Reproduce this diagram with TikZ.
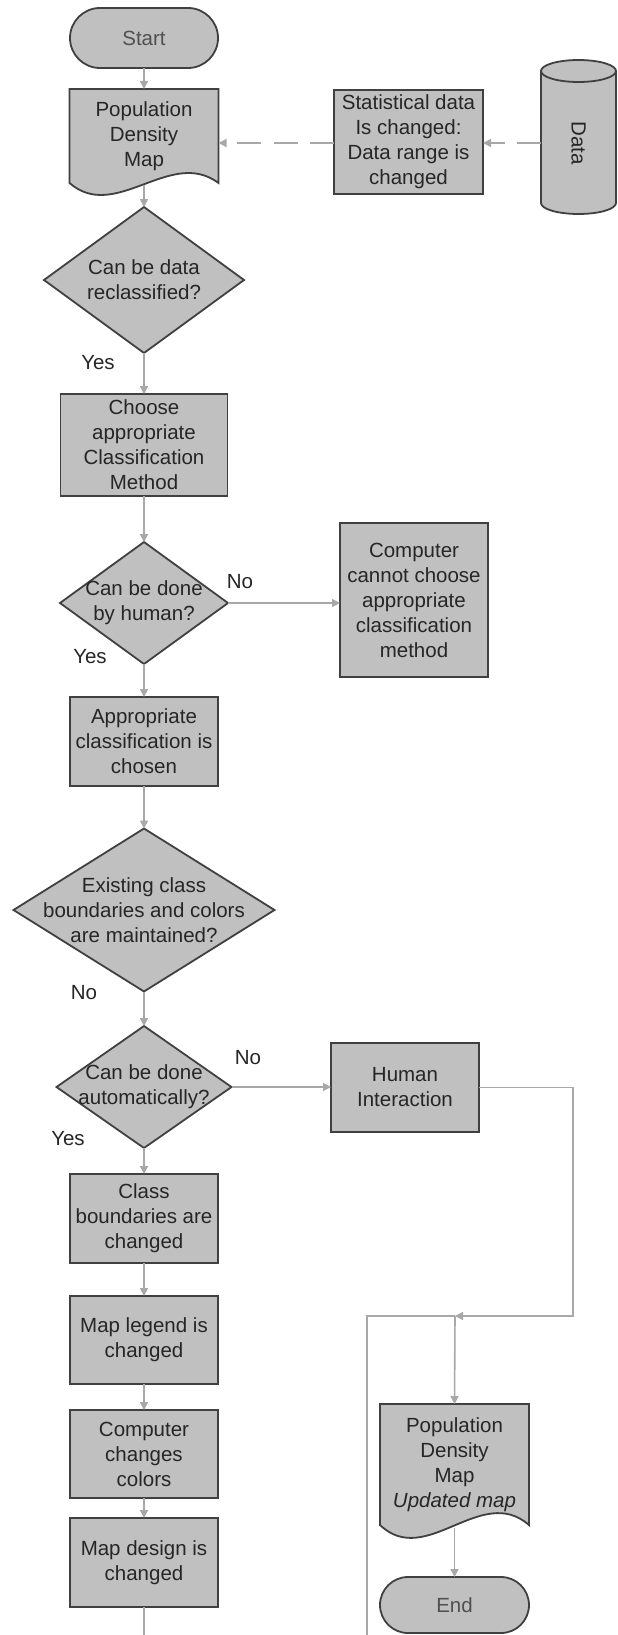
\documentclass[tikz,border=0pt]{standalone}
\usepackage{fontspec}
\usepackage{graphicx}
\setmainfont{Liberation Sans}
\usetikzlibrary{shapes.geometric,shapes.misc,arrows.meta,calc,backgrounds}
\definecolor{boxfill}{HTML}{C0C0C0}
\definecolor{boxline}{HTML}{404040}
\definecolor{linkgray}{HTML}{A8A8A8}
\definecolor{inkgray}{HTML}{262626}
\definecolor{termink}{HTML}{505050}

\begin{document}
\begin{tikzpicture}[x=1pt, y=-1pt,
  every node/.style={font=\fontsize{20.5}{25}\selectfont, text=inkgray, align=center, inner sep=0pt, outer sep=0pt},
  procbox/.style={draw=boxline, fill=boxfill, line width=1.8pt, rectangle},
  term/.style={draw=boxline, fill=boxfill, line width=1.8pt, rounded rectangle, text=termink},
  decision/.style={draw=boxline, fill=boxfill, line width=1.8pt, diamond},
  docnode/.style={rectangle},
  shapeline/.style={draw=boxline, fill=boxfill, line width=1.8pt, line join=miter},
  link/.style={draw=linkgray, line width=1.6pt, -{Triangle[length=8pt,width=8pt]}},
  plainlink/.style={draw=linkgray, line width=1.6pt},
  dashlink/.style={link, dash pattern=on 24pt off 12.5pt},
]
\useasboundingbox (0,0) rectangle (618,1635);

% ---- upper part: start, source data, first map ----
\node[term, minimum width=148pt, minimum height=60pt] (start) at (144,38) {Start};
\node[docnode, minimum width=149pt, minimum height=94pt] (pdm) at (144,136) {Population\\Density\\Map};
\node[procbox, minimum width=149pt, minimum height=104pt] (stat) at (408.5,142) {Statistical data\\Is changed:\\Data range is\\changed};
\node[minimum width=75pt, minimum height=154pt] (data) at (578.5,143) {\rotatebox{-90}{Data}};

% ---- classification branch ----
\node[decision, minimum width=200pt, minimum height=146pt] (d1) at (144,280) {};
\node (d1t) at (d1) {Can be data\\reclassified?};
\node[procbox, minimum width=167pt, minimum height=102pt] (choose) at (144,445) {Choose\\appropriate\\Classification\\Method};
\node[decision, minimum width=168pt, minimum height=122pt] (d2) at (144,603) {};
\node (d2t) at (d2) {Can be done\\by human?};
\node[procbox, minimum width=148pt, minimum height=154pt] (comp) at (414,600) {Computer\\cannot choose\\appropriate\\classification\\method};
\node[procbox, minimum width=148pt, minimum height=89pt] (appr) at (144,741.5) {Appropriate\\classification is\\chosen};

% ---- class boundaries and colours ----
\node[decision, minimum width=261pt, minimum height=163pt] (d3) at (144,910) {};
\node (d3t) at (d3) {Existing class\\boundaries and colors\\are maintained?};
\node[decision, minimum width=175pt, minimum height=122pt] (d4) at (144,1087) {};
\node (d4t) at (d4) {Can be done\\automatically?};
\node[procbox, minimum width=148pt, minimum height=89pt] (human) at (405,1087.5) {Human\\Interaction};
\node[procbox, minimum width=148pt, minimum height=89pt] (cb) at (144,1218.5) {Class\\boundaries are\\changed};
\node[procbox, minimum width=148pt, minimum height=88pt] (legend) at (144,1340) {Map legend is\\changed};
\node[procbox, minimum width=148pt, minimum height=88pt] (colors) at (144,1454) {Computer\\changes\\colors};
\node[procbox, minimum width=148pt, minimum height=89pt] (design) at (144,1562.5) {Map design is\\changed};

% ---- result ----
\node[docnode, minimum width=149pt, minimum height=121pt] (upd) at (454.5,1464.5) {Population\\Density\\Map\\\textit{Updated map}};
\node[term, minimum width=149pt, minimum height=56pt] (end) at (454.5,1605) {End};

% ---- branch labels ----
\node (yes1) at (98,363) {Yes};
\node (no2) at (240,582) {No};
\node (yes2) at (90,657) {Yes};
\node (no3) at (84,993) {No};
\node (no4) at (248,1058) {No};
\node (yes4) at (68,1139) {Yes};

% ---- helper points of the loop ----
\coordinate (jn) at (455,1316);
\coordinate (rc) at (573,1316);
\coordinate (lb) at (367,1635);
\coordinate (mb) at (144,1635);

% ---- connectors ----
\draw[link] (start.south) -- (pdm.north);
\draw[link, shorten <=2pt] (pdm.south) -- (d1.north);
\draw[dashlink] (data.west) -- (data.west -| stat.east);
\draw[dashlink] (stat.west |- data.west) -- (stat.west |- data.west -| pdm.east);
\draw[link] (d1.south) -- (choose.north);
\draw[link] (choose.south) -- (d2.north);
\draw[link] (d2.east) -- (d2.east -| comp.west);
\draw[link] (d2.south) -- (appr.north);
\draw[link] (appr.south) -- (d3.north);
\draw[link] (d3.south) -- (d4.north);
\draw[link] (d4.east) -- (d4.east -| human.west);
\draw[link] (d4.south) -- (cb.north);
\draw[link] (cb.south) -- (legend.north);
\draw[link] (legend.south) -- (colors.north);
\draw[link] (colors.south) -- (design.north);
\draw[plainlink] (design.south) -- (mb);
\draw[link] (human.east) -- (human.east -| rc) -- (rc) -- (jn);
\draw[plainlink] (lb) |- (jn);
\draw[link] (jn) -- (upd.north);
\draw[link, shorten <=3pt] (upd.south) -- (end.north);

% ---- document and storage outlines, behind the text ----
\begin{scope}[on background layer]
  \fill[white] (0,0) rectangle (618,1635);
  \path[shapeline] (pdm.north west) -- (pdm.north east) -- (pdm.south east)
    .. controls ($(pdm.south east)+(-48,-36)$) and ($(pdm.south west)+(46,40)$) .. (pdm.south west) -- cycle;
  \path[shapeline] (upd.north west) -- (upd.north east) -- (upd.south east)
    .. controls ($(upd.south east)+(-48,-42)$) and ($(upd.south west)+(46,44)$) .. (upd.south west) -- cycle;
  \fill[boxfill] (541,71) -- (541,203) arc[start angle=180, end angle=0, x radius=37.5, y radius=11] -- (616,71) -- cycle;
  \draw[boxline, line width=1.8pt] (541,71) -- (541,203) arc[start angle=180, end angle=0, x radius=37.5, y radius=11] -- (616,71);
  \filldraw[fill=boxfill, draw=boxline, line width=1.8pt] (578.5,71) ellipse[x radius=37.5, y radius=11];
\end{scope}
\end{tikzpicture}
\end{document}
